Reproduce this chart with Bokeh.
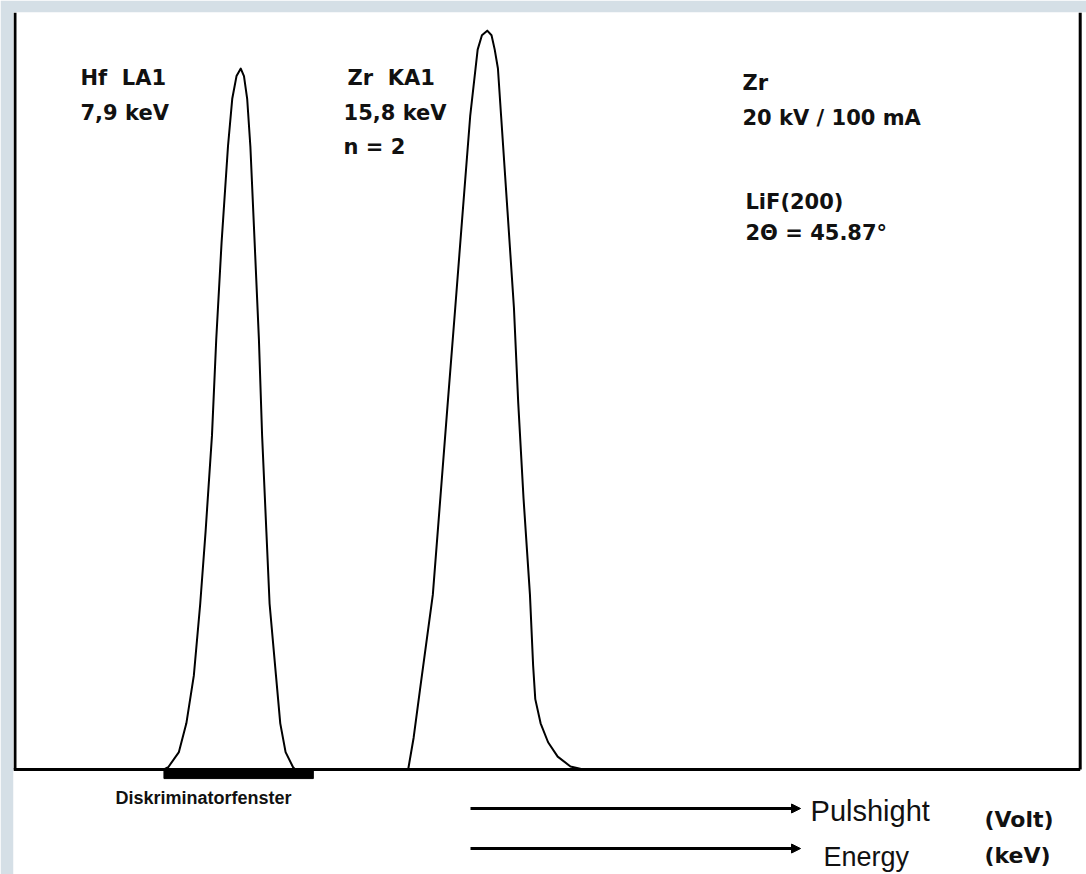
from bokeh.plotting import figure
from bokeh.models import Range1d, Arrow, NormalHead, Label
from bokeh.embed import file_html
from bokeh.resources import INLINE

# ---- data (channel, counts) ----
hf_channel = [14.1, 14.5, 15.5, 16.2, 16.9, 17.5, 18.0, 18.6, 19.0, 19.5, 20.1, 20.5, 20.9,
              21.3, 21.6, 21.9, 22.2, 22.6, 23.0, 23.3, 23.7, 24.0, 24.6, 25.0, 25.5, 26.2, 26.4]
hf_counts = [0.0, 0.3, 2.3, 6.1, 12.4, 21.9, 31.4, 44.1, 56.8, 69.6, 82.3, 88.6, 91.6,
             92.6, 91.6, 88.6, 82.3, 69.6, 56.8, 44.1, 31.4, 21.9, 12.4, 6.1, 2.3, 0.3, 0.0]

zr_channel = [36.9, 37.0, 37.5, 38.1, 39.3, 40.0, 40.7, 41.4, 42.1, 42.8, 43.3, 43.5, 43.9,
              44.4, 44.8, 45.1, 45.4, 45.7, 46.3, 46.9, 47.3, 47.8, 48.4, 48.7, 48.9, 49.4,
              50.1, 51.0, 52.2, 53.4]
zr_counts = [0.0, 0.1, 4.2, 10.6, 23.1, 35.8, 48.5, 61.0, 73.7, 86.3, 92.6, 95.1, 97.0,
             97.6, 97.0, 95.1, 92.6, 86.3, 73.7, 61.0, 48.5, 35.8, 23.1, 13.7, 9.3, 6.1,
             3.6, 1.7, 0.4, 0.0]

disc_window = [14.1, 28.1]          # Diskriminatorfenster (channel range)
frame_x = [0.14, 99.97]             # left / right frame lines

BLUE = "#d5dfe6"

p = figure(width=1086, height=874,
           x_range=Range1d(0, 100.56), y_range=Range1d(-13.87, 100),
           x_axis_location=None, y_axis_location=None,
           output_backend="svg", toolbar_location=None,
           min_border_left=13, min_border_top=12, min_border_right=0, min_border_bottom=0)
p.grid.visible = False
p.outline_line_color = None
p.border_fill_color = BLUE
p.background_fill_color = "white"

# frame: left/right verticals and the baseline
p.segment(x0=frame_x, y0=[0, 0], x1=frame_x, y1=[100, 100], line_color="black", line_width=3)
p.segment(x0=[0], y0=[0], x1=[frame_x[1]], y1=[0], line_color="black", line_width=3)

# discriminator window bar
p.quad(left=[disc_window[0]], right=[disc_window[1]], top=[0], bottom=[-1.2],
       fill_color="black", line_color="black")

# peaks
p.line(hf_channel, hf_counts, line_color="black", line_width=2, line_join="round")
p.line(zr_channel, zr_counts, line_color="black", line_width=2, line_join="round")

BOLD = dict(text_font="DejaVu Sans", text_font_style="bold", text_font_size="21px",
            text_color="#111111", text_baseline="alphabetic")
labels = [
    ("Hf\u00a0 LA1", 6.28, 91.3), ("7,9 keV", 6.28, 86.79),
    ("Zr\u00a0 KA1", 31.3, 91.41), ("15,8 keV", 30.93, 86.79), ("n = 2", 30.93, 82.17),
    ("Zr", 68.32, 90.75), ("20 kV / 100 mA", 68.32, 86.0),
    ("LiF(200)", 68.6, 75.03), ("2Θ = 45.87°", 68.6, 70.81),
]
for t, x, y in labels:
    p.add_layout(Label(x=x, y=y, text=t, **BOLD))

p.add_layout(Label(x=9.56, y=-3.70, text="Diskriminatorfenster", text_font="Liberation Sans",
                   text_font_style="bold", text_font_size="18px", text_color="#111111",
                   text_baseline="alphabetic"))

# arrows
for yy in (-5.15, -10.44):
    p.add_layout(Arrow(x_start=42.83, y_start=yy, x_end=73.76, y_end=yy, line_width=3,
                       line_color="black",
                       end=NormalHead(size=9, fill_color="black", line_color="black")))

p.add_layout(Label(x=74.7, y=-5.42, text="Pulshight", text_font="Liberation Sans",
                   text_font_size="29px", text_color="#111111", text_baseline="alphabetic"))
p.add_layout(Label(x=75.91, y=-11.5, text="Energy", text_font="Liberation Sans",
                   text_font_size="27px", text_color="#111111", text_baseline="alphabetic"))
p.add_layout(Label(x=91.0, y=-6.61, text="(Volt)", text_font="DejaVu Sans", text_font_style="bold",
                   text_font_size="22px", text_color="#111111", text_baseline="alphabetic"))
p.add_layout(Label(x=91.0, y=-11.4, text="(keV)", text_font="DejaVu Sans", text_font_style="bold",
                   text_font_size="22px", text_color="#111111", text_baseline="alphabetic"))

open("out.html", "w").write(file_html(p, INLINE))
